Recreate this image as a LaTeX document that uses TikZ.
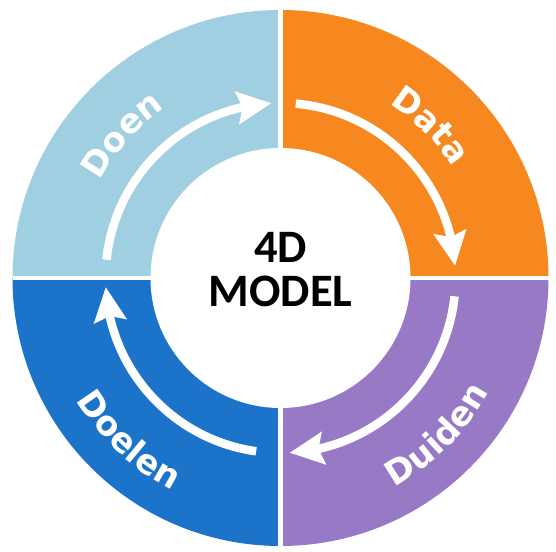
\documentclass[tikz,border=0pt]{standalone}
\usepackage{fontspec}
\newfontfamily\lblfont{DejaVu Sans}
\newfontfamily\ctrfont{Carlito}
\usetikzlibrary{arrows.meta,bending,decorations.text}
\definecolor{qdoen}{RGB}{160,207,226}
\definecolor{qdata}{RGB}{247,135,31}
\definecolor{qduiden}{RGB}{151,121,198}
\definecolor{qdoelen}{RGB}{27,116,201}
\definecolor{bgblue}{RGB}{226,236,248}
\pgfdeclareradialshading{bgshade}{\pgfpoint{0bp}{0bp}}{color(0bp)=(white); color(48.5bp)=(white); color(57bp)=(bgblue); color(75bp)=(bgblue)}
\begin{document}
\begin{tikzpicture}[x=1pt,y=1pt,
  arrowline/.style={white, line width=8.5pt, -{Stealth[width=32pt,length=34pt,inset=5pt,flex]}},
  lbl/.style={decorate, decoration={text along path, text align=center,
     text={|\lblfont\bfseries\fontsize{34}{40}\selectfont\color{white}|#1}}},
  gapline/.style={white, line width=#1}
]
\useasboundingbox (0,0) rectangle (556,551);
\fill[shading=bgshade] (0,0) rectangle (556,551);
\coordinate (c) at (280.5,273);
\def\Ro{268}
\def\Ri{130}
% quadrants
\fill[qdata]   (c) -- ++(0:\Ro)   arc[start angle=0,   end angle=90,  radius=\Ro] -- cycle;
\fill[qdoen]   (c) -- ++(90:\Ro)  arc[start angle=90,  end angle=180, radius=\Ro] -- cycle;
\fill[qdoelen] (c) -- ++(180:\Ro) arc[start angle=180, end angle=270, radius=\Ro] -- cycle;
\fill[qduiden] (c) -- ++(270:\Ro) arc[start angle=270, end angle=360, radius=\Ro] -- cycle;
% gaps
\draw[gapline=5.5pt] (c) ++(0,\Ro) -- ++(0,-2*\Ro);
\draw[gapline=4.5pt] (c) ++(-\Ro,0) -- ++(2*\Ro,0);
\fill[white] (c) circle[radius=\Ri];
% arrows
\draw[arrowline] (c) ++(174:175) arc[start angle=174, end angle=93, radius=175];
\draw[arrowline] (c) ++(85:175) arc[start angle=85, end angle=4, radius=175];
\draw[arrowline] (c) ++(-6:175) arc[start angle=-6, end angle=-87, radius=175];
\draw[arrowline] (c) ++(-98:175) arc[start angle=-98, end angle=-177, radius=175];
% labels
\path[lbl=Doen]   (c) ++(183:205) arc[start angle=183, end angle=93, radius=205];
\path[lbl=Data]   (c) ++(90.5:205) arc[start angle=90.5, end angle=0.5, radius=205];
\path[lbl=Duiden] (c) ++(-90:238) arc[start angle=-90, end angle=0, radius=238];
\path[lbl=Doelen] (c) ++(-178:238) arc[start angle=-178, end angle=-88, radius=238];
% centre
\node[font=\ctrfont\bfseries\fontsize{46.5}{44}\selectfont, align=center, inner sep=0pt] (title) at (280.5,281) {4D\\MODEL};
\end{tikzpicture}
\end{document}
